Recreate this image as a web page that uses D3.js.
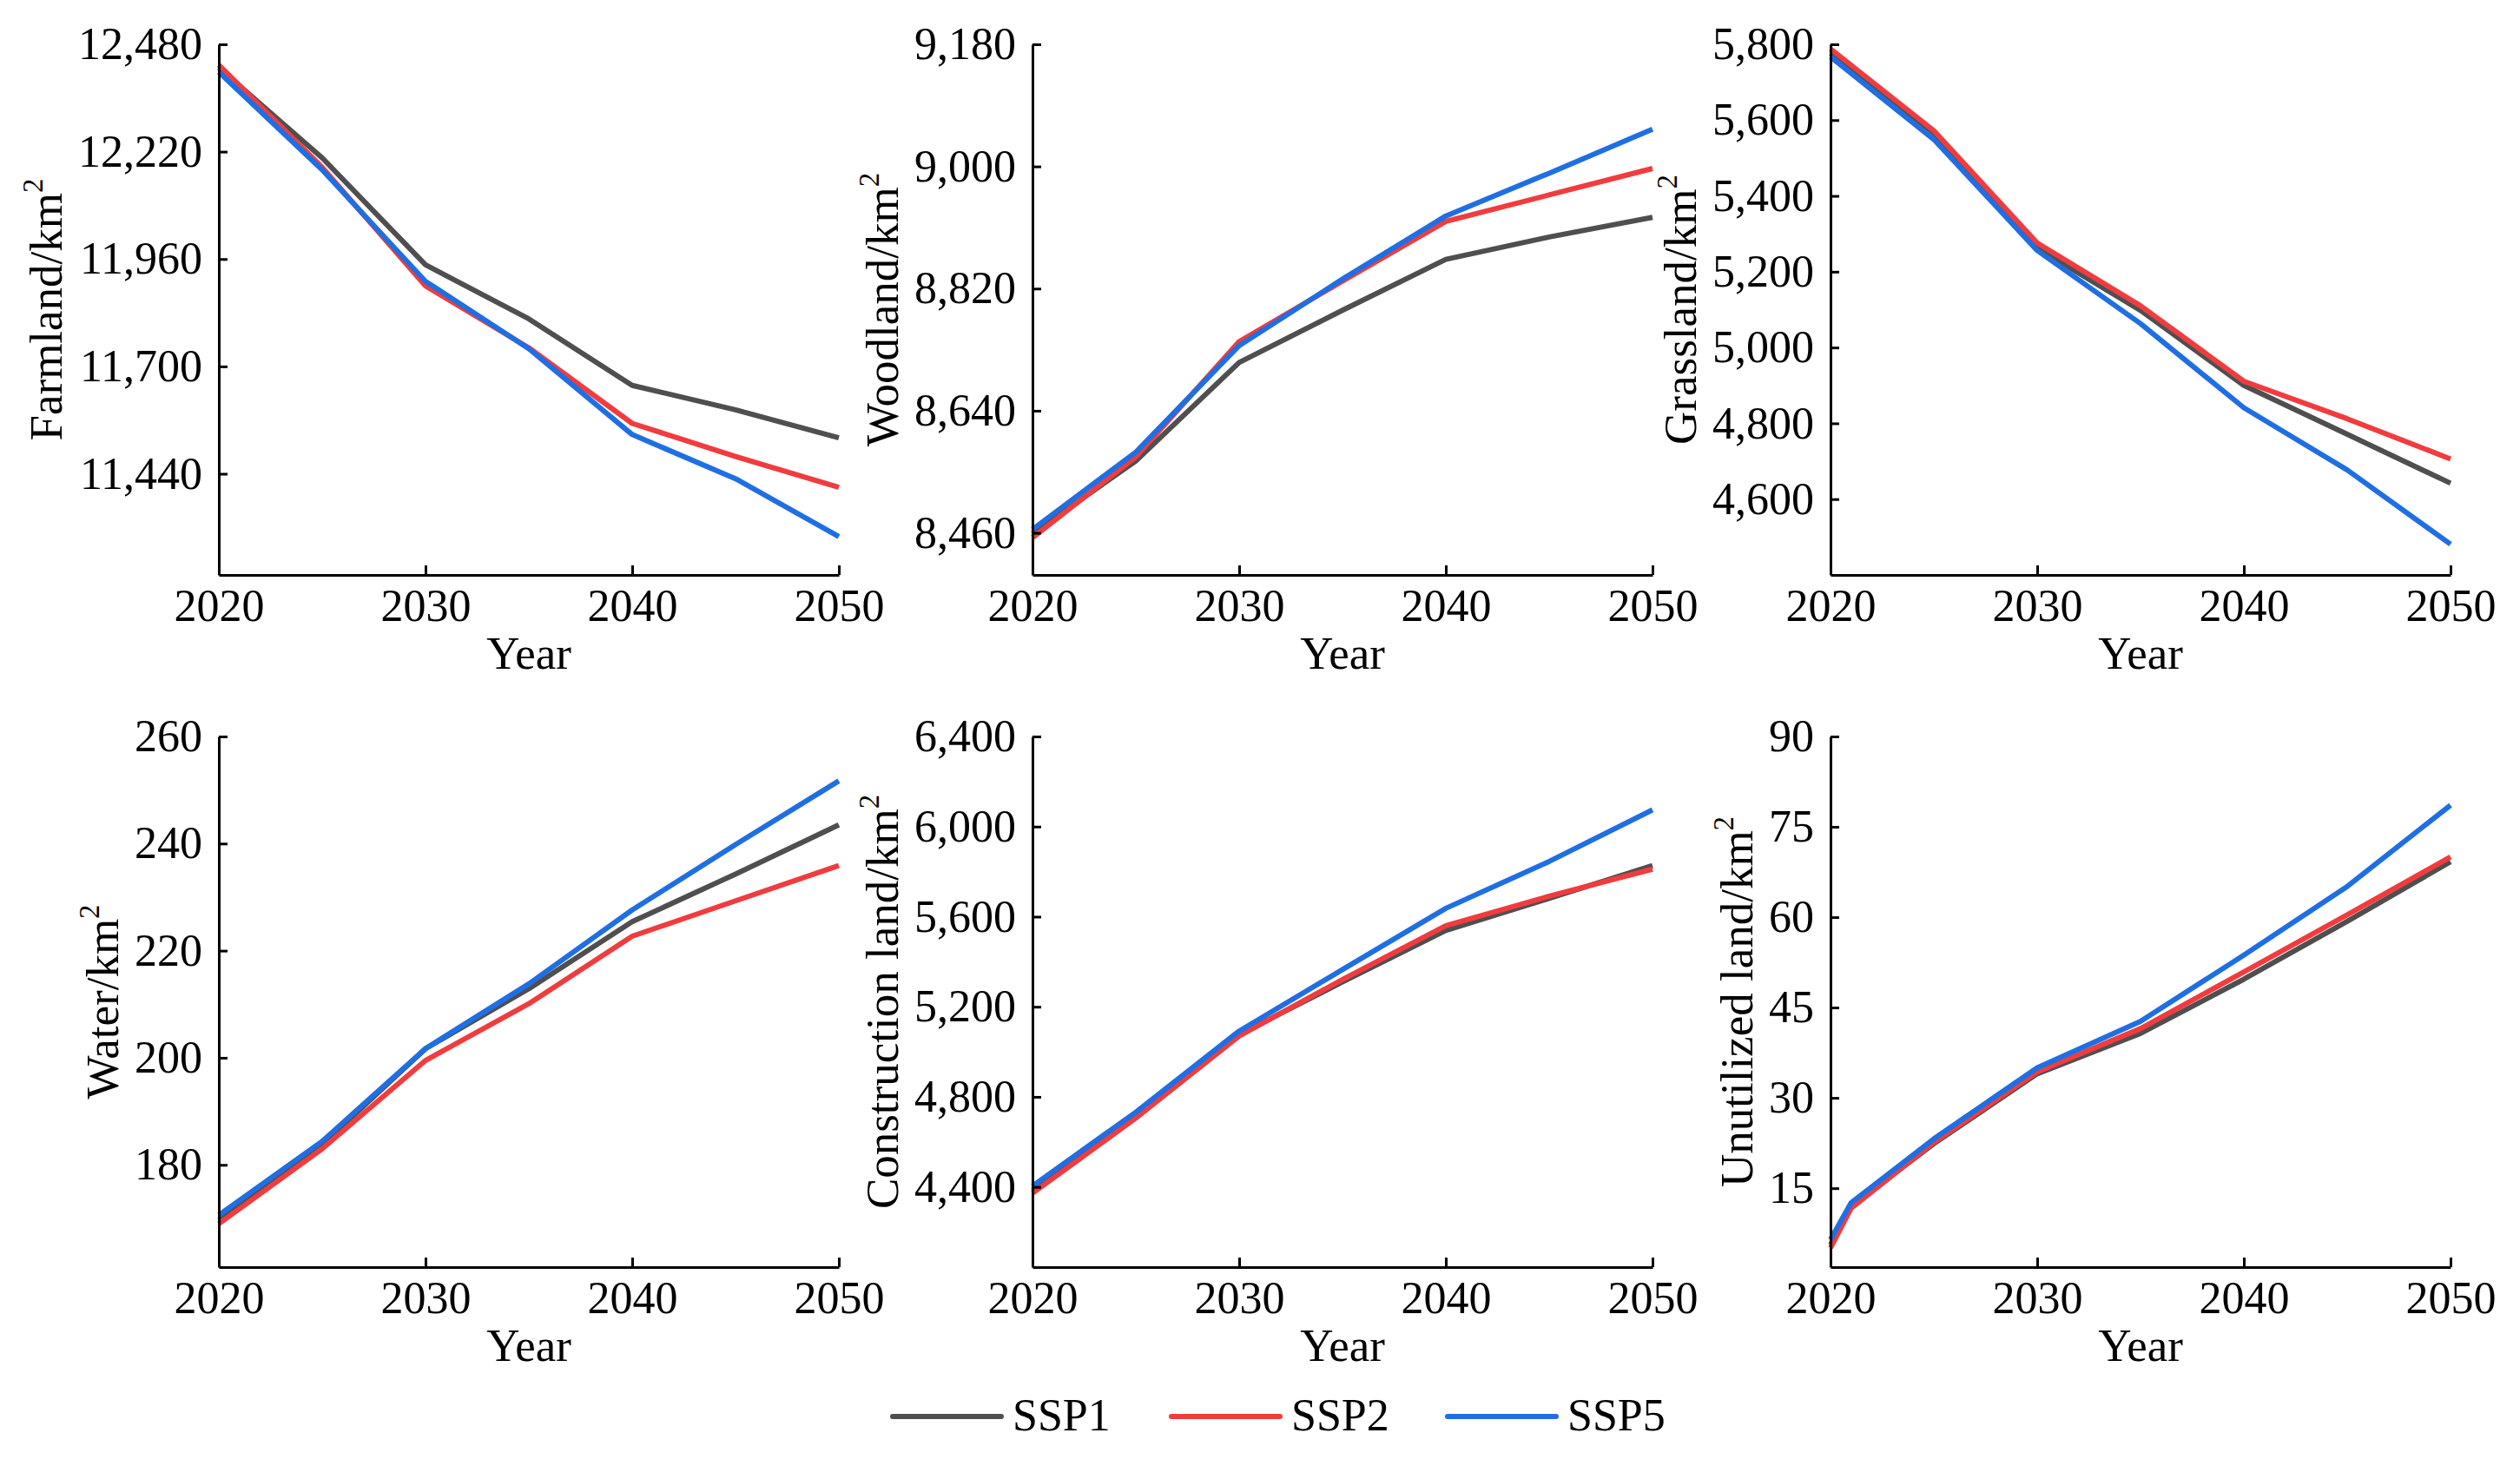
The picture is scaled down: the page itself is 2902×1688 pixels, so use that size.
<!DOCTYPE html>
<html>
<head>
<meta charset="utf-8">
<script src="https://cdn.jsdelivr.net/npm/d3@7"></script>
<style>
  body { margin: 0; background: #fff; }
  text { font-family: "Liberation Serif", "Times New Roman", serif; fill: #000; }
</style>
</head>
<body>
<div id="chart-area"></div>
<script>
// data
const scenarios = ["SSP1", "SSP2", "SSP5"]
const scenarioColors = ["#4f4f4f", "#f03c3f", "#1f6fe3"]

const years = [2020, 2025, 2030, 2035, 2040, 2045, 2050]
const yearsUnutilized = [2020, 2021, 2025, 2030, 2035, 2040, 2045, 2050]
const xTicks = [2020, 2030, 2040, 2050]

const farmlandSSP1 = [12423, 12205, 11946, 11815, 11654, 11595, 11527]
const farmlandSSP2 = [12430, 12182, 11895, 11745, 11562, 11482, 11407]
const farmlandSSP5 = [12413, 12176, 11906, 11743, 11535, 11428, 11288]
const farmlandTicks = [11440, 11700, 11960, 12220, 12480]

const woodlandSSP1 = [8459, 8566, 8711, 8788, 8863, 8896, 8925]
const woodlandSSP2 = [8453, 8572, 8742, 8831, 8919, 8958, 8997]
const woodlandSSP5 = [8465, 8579, 8736, 8834, 8927, 8990, 9055]
const woodlandTicks = [8460, 8640, 8820, 9000, 9180]

const grasslandSSP1 = [5777, 5566, 5262, 5098, 4900, 4771, 4642]
const grasslandSSP2 = [5788, 5572, 5276, 5110, 4911, 4812, 4706]
const grasslandSSP5 = [5767, 5549, 5256, 5063, 4841, 4677, 4481]
const grasslandTicks = [4600, 4800, 5000, 5200, 5400, 5600, 5800]

const waterSSP1 = [169.6, 183.8, 201.7, 212.9, 225.4, 234.3, 243.5]
const waterSSP2 = [169.0, 183.0, 199.5, 210.1, 222.7, 229.3, 235.9]
const waterSSP5 = [170.6, 184.4, 201.7, 213.8, 227.6, 239.8, 251.7]
const waterTicks = [180, 200, 220, 240, 260]

const constructionSSP1 = [4383, 4710, 5077, 5310, 5539, 5681, 5827]
const constructionSSP2 = [4372, 4706, 5070, 5321, 5560, 5691, 5811]
const constructionSSP5 = [4404, 4732, 5092, 5365, 5637, 5845, 6074]
const constructionTicks = [4400, 4800, 5200, 5600, 6000, 6400]

const unutilizedSSP1 = [5.6, 12.0, 22.4, 34.0, 40.7, 49.7, 59.3, 69.2]
const unutilizedSSP2 = [5.1, 11.7, 22.6, 34.3, 41.5, 50.9, 60.4, 70.0]
const unutilizedSSP5 = [6.5, 12.6, 23.2, 35.0, 42.7, 53.7, 65.1, 78.6]
const unutilizedTicks = [15, 30, 45, 60, 75, 90]

const panels = [
  { label: "Farmland", years: years, series: [farmlandSSP1, farmlandSSP2, farmlandSSP5], ticks: farmlandTicks, min: 11195, col: 0, row: 0 },
  { label: "Woodland", years: years, series: [woodlandSSP1, woodlandSSP2, woodlandSSP5], ticks: woodlandTicks, min: 8398, col: 1, row: 0 },
  { label: "Grassland", years: years, series: [grasslandSSP1, grasslandSSP2, grasslandSSP5], ticks: grasslandTicks, min: 4400, col: 2, row: 0 },
  { label: "Water", years: years, series: [waterSSP1, waterSSP2, waterSSP5], ticks: waterTicks, min: 160.9, col: 0, row: 1 },
  { label: "Construction land", years: years, series: [constructionSSP1, constructionSSP2, constructionSSP5], ticks: constructionTicks, min: 4044, col: 1, row: 1 },
  { label: "Unutilized land", years: yearsUnutilized, series: [unutilizedSSP1, unutilizedSSP2, unutilizedSSP5], ticks: unutilizedTicks, min: 1.9, col: 2, row: 1 }
]

const W = 2902
const H = 1688
const FONT = 52
const LABEL_FONT = 53
const COL_X = [252, 1189, 2108]
const ROW_TOP = [51, 848]
const PLOT_W = 714
const PLOT_H = 611

const svg = d3.select("#chart-area").append("svg")
  .attr("width", W)
  .attr("height", H)

svg.append("rect").attr("width", W).attr("height", H).attr("fill", "#fff")

panels.forEach(p => {
  const g = svg.append("g")
    .attr("transform", `translate(${COL_X[p.col]}, ${ROW_TOP[p.row]})`)

  const x = d3.scaleLinear().domain([2020, 2050]).range([0, PLOT_W])
  const y = d3.scaleLinear().domain([p.min, d3.max(p.ticks)]).range([PLOT_H, 0])

  // lines
  const line = d3.line()
    .x((d, i) => x(p.years[i]))
    .y(d => y(d))

  p.series.forEach((s, i) => {
    g.append("path")
      .attr("d", line(s))
      .attr("fill", "none")
      .attr("stroke", scenarioColors[i])
      .attr("stroke-width", 6)
      .attr("stroke-linejoin", "round")
  })

  // axes, ticks pointing inward
  const xAxis = g.append("g")
    .attr("transform", `translate(0, ${PLOT_H})`)
    .call(d3.axisBottom(x).tickValues(xTicks).tickFormat(d3.format("d"))
      .tickSizeInner(-11).tickSizeOuter(0).tickPadding(16))
  const yAxis = g.append("g")
    .call(d3.axisLeft(y).tickValues(p.ticks).tickFormat(d3.format(","))
      .tickSizeInner(-10).tickSizeOuter(0).tickPadding(19))

  ;[xAxis, yAxis].forEach(a => {
    a.attr("font-family", null).attr("font-size", null)
    a.select(".domain").attr("stroke", "#000").attr("stroke-width", 3)
    a.selectAll(".tick line").attr("stroke", "#000").attr("stroke-width", 3)
    a.selectAll(".tick text").attr("font-size", FONT).attr("fill", "#000")
  })

  // x label
  g.append("text")
    .attr("x", PLOT_W / 2)
    .attr("y", PLOT_H + 108)
    .attr("text-anchor", "middle")
    .attr("font-size", LABEL_FONT)
    .text("Year")

  // y label, just left of the tick labels
  const minX = d3.min(yAxis.selectAll(".tick text").nodes(), n => n.getBBox().x)
  const yl = g.append("text")
    .attr("transform", `translate(${minX - 19}, ${PLOT_H / 2}) rotate(-90)`)
    .attr("text-anchor", "middle")
    .attr("font-size", LABEL_FONT)
  yl.append("tspan").text(p.label + "/km")
  yl.append("tspan").attr("font-size", LABEL_FONT * 0.62).attr("dy", -LABEL_FONT * 0.42).text("2")
})

// legend
const legendX = [1028, 1349, 1667]
const legend = svg.append("g").attr("transform", "translate(0, 1631)")
scenarios.forEach((name, i) => {
  legend.append("line")
    .attr("x1", legendX[i]).attr("x2", legendX[i] + 125)
    .attr("y1", 0).attr("y2", 0)
    .attr("stroke", scenarioColors[i])
    .attr("stroke-width", 6)
    .attr("stroke-linecap", "round")
  legend.append("text")
    .attr("x", legendX[i] + 138)
    .attr("y", 16)
    .attr("font-size", FONT)
    .text(name)
})
</script>
</body>
</html>
